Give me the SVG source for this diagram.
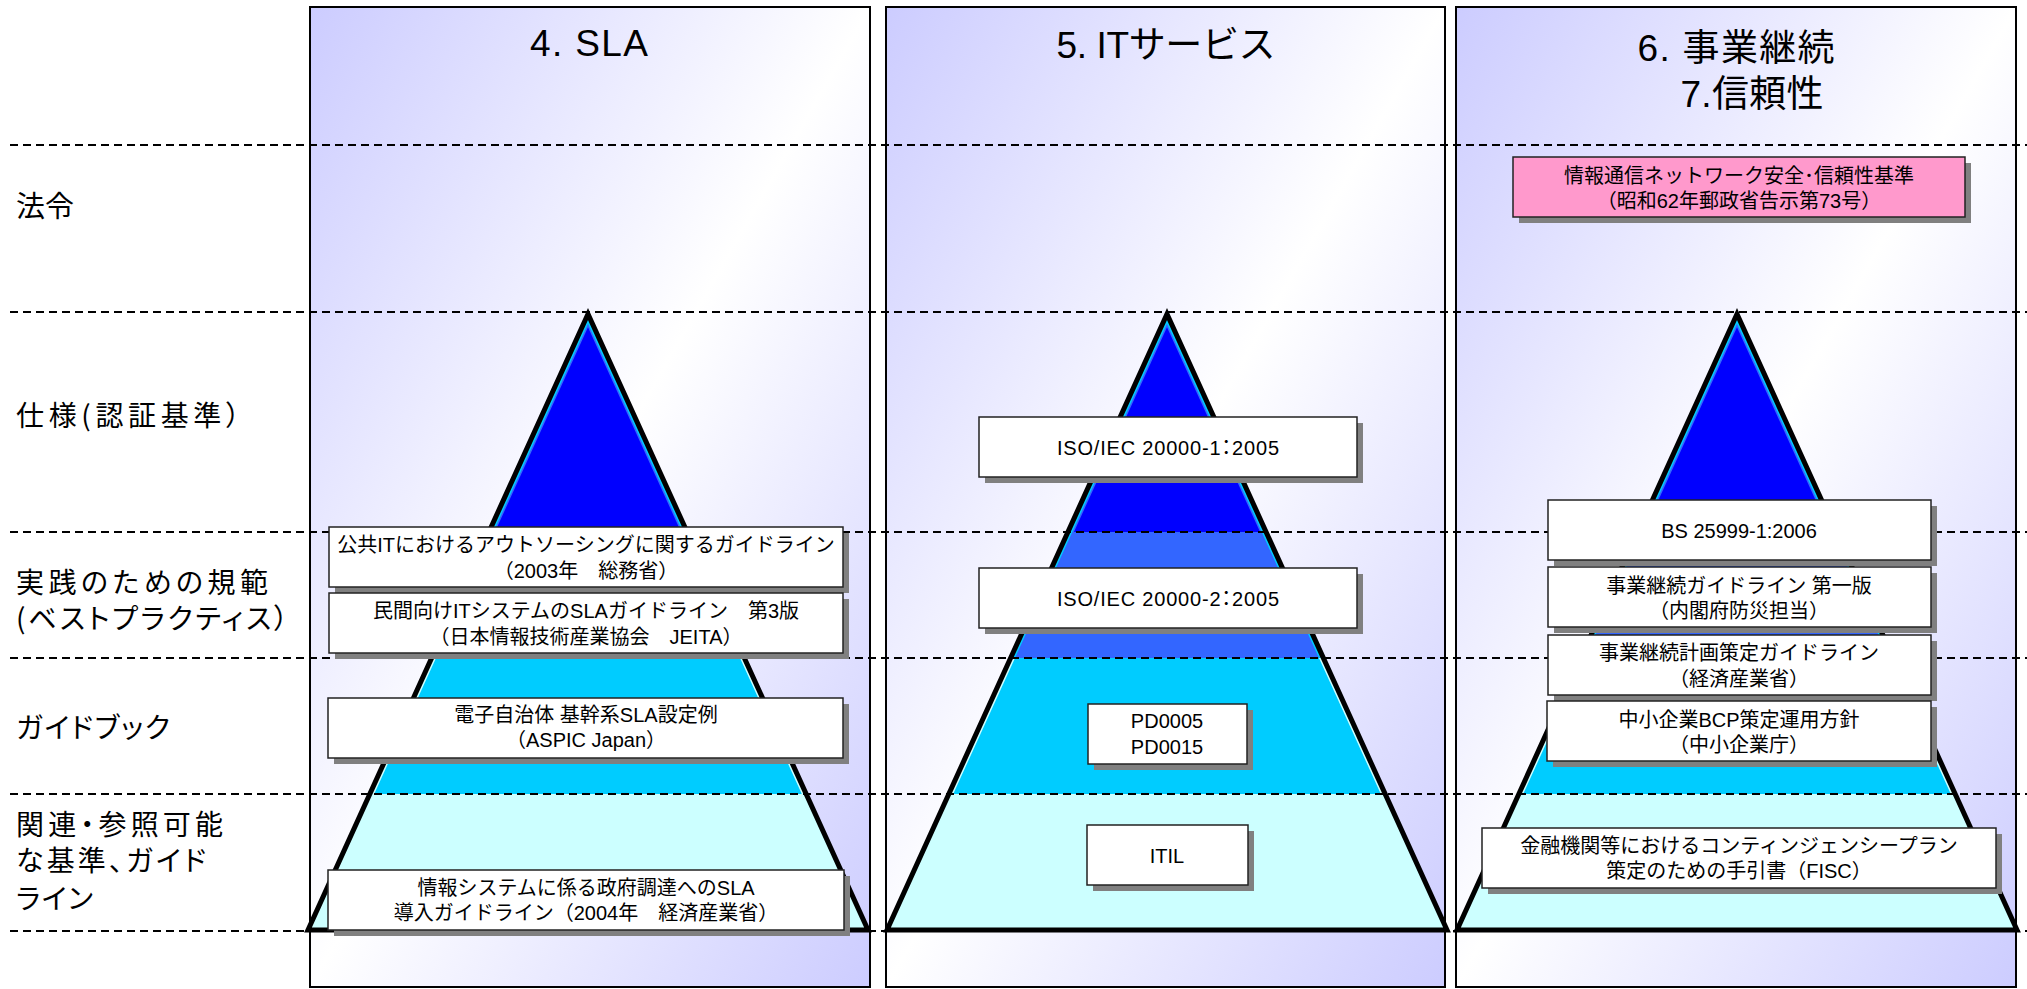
<svg xmlns="http://www.w3.org/2000/svg" width="2027" height="989" viewBox="0 0 2027 989">
<defs>
<style>
.col{fill:url(#colbg);stroke:#000;stroke-width:2}
.shadow{fill:#808080}
.box{fill:#fff;stroke:#222;stroke-width:1.5}
.pink{fill:#FF99CC;stroke:#222;stroke-width:1.5}
.bt{font-family:"Liberation Sans","Noto Sans CJK JP",sans-serif;font-size:20px;text-anchor:middle;fill:#000}
.pt{font-feature-settings:"palt"}
.lbl{font-family:"Noto Sans CJK JP",sans-serif;font-size:28px;fill:#000;font-feature-settings:"palt"}
.title{font-family:"Liberation Sans","Noto Sans CJK JP",sans-serif;font-size:37px;text-anchor:middle;fill:#000}
.dash{stroke:#000;stroke-width:2;stroke-dasharray:8 5;fill:none}
</style>
<linearGradient id="colbg" x1="0" y1="0" x2="1" y2="1">
<stop offset="0" stop-color="#CCCCFF"/>
<stop offset="0.5" stop-color="#FFFFFF"/>
<stop offset="1" stop-color="#CCCCFF"/>
</linearGradient>
<linearGradient id="st1" gradientUnits="userSpaceOnUse" x1="0" y1="314" x2="0" y2="930">
<stop offset="0" stop-color="#00CCFF"/>
<stop offset="0.558" stop-color="#00CCFF"/>
<stop offset="0.558" stop-color="#CCFFFF"/>
<stop offset="1" stop-color="#CCFFFF"/>
</linearGradient>
<linearGradient id="st2" gradientUnits="userSpaceOnUse" x1="0" y1="314" x2="0" y2="930">
<stop offset="0" stop-color="#3366FF"/>
<stop offset="0.558" stop-color="#3366FF"/>
<stop offset="0.558" stop-color="#00CCFF"/>
<stop offset="0.779" stop-color="#00CCFF"/>
<stop offset="0.779" stop-color="#CCFFFF"/>
<stop offset="1" stop-color="#CCFFFF"/>
</linearGradient>
<clipPath id="triClip"><path d="M0,314 L280,930 L-280,930 Z"/></clipPath>
<g id="pyr">
<g clip-path="url(#triClip)">
<rect x="-290" y="300" width="580" height="232" fill="#0000FF"/>
<rect x="-290" y="532" width="580" height="126" fill="#3366FF"/>
<rect x="-290" y="658" width="580" height="136" fill="#00CCFF"/>
<rect x="-290" y="794" width="580" height="146" fill="#CCFFFF"/>
<path d="M0,314 L280,930 L-280,930 Z" fill="none" stroke="url(#st2)" stroke-width="11"/>
<path d="M0,314 L280,930 L-280,930 Z" fill="none" stroke="url(#st1)" stroke-width="8"/>
</g>
<path d="M0,314 L280,930 L-280,930 Z" fill="none" stroke="#000" stroke-width="5"/>
</g>
</defs>

<g id="columns">
<rect id="col-sla" class="col" x="310" y="7" width="560" height="980"/>
<rect id="col-it" class="col" x="886" y="7" width="559" height="980"/>
<rect id="col-bc" class="col" x="1456" y="7" width="560" height="980"/>
</g>

<g id="pyramids">
<use id="pyramid-sla" href="#pyr" x="588"/>
<use id="pyramid-it" href="#pyr" x="1167"/>
<use id="pyramid-bc" href="#pyr" x="1737"/>
</g>

<g id="connectors">
<line class="dash" x1="10" y1="145" x2="2027" y2="145"/>
<line class="dash" x1="10" y1="312" x2="2027" y2="312"/>
<line class="dash" x1="10" y1="532" x2="2027" y2="532"/>
<line class="dash" x1="10" y1="658" x2="2027" y2="658"/>
<line class="dash" x1="10" y1="794" x2="2027" y2="794"/>
<line class="dash" x1="10" y1="931" x2="2027" y2="931"/>
</g>

<g id="titles">
<text id="title-sla" class="title" x="589" y="56" textLength="118" lengthAdjust="spacing">4. SLA</text>
<text id="title-it" class="title" x="1166" y="58" textLength="219" lengthAdjust="spacing">5. ITサービス</text>
<text id="title-bc" class="title" x="1736" y="61" textLength="197" lengthAdjust="spacing">6. 事業継続</text>
<text id="title-rel" class="title" x="1752" y="107" textLength="143" lengthAdjust="spacing">7.信頼性</text>
</g>

<g id="row-labels">
<text id="lbl-law" class="lbl" x="16" y="217" style="font-size:29px">法令</text>
<text id="lbl-spec" class="lbl" x="16" y="426" textLength="224" lengthAdjust="spacing">仕様(認証基準）</text>
<g id="lbl-bp">
<text class="lbl" x="16" y="593" textLength="252" lengthAdjust="spacing">実践のための規範</text>
<text class="lbl" x="16" y="629" textLength="272" lengthAdjust="spacing">(ベストプラクティス）</text>
</g>
<text id="lbl-guide" class="lbl" x="16" y="738" textLength="154" lengthAdjust="spacing">ガイドブック</text>
<g id="lbl-rel">
<text class="lbl" x="16" y="835" textLength="207" lengthAdjust="spacing">関連・参照可能</text>
<text class="lbl" x="16" y="871" textLength="190" lengthAdjust="spacing">な基準、ガイド</text>
<text class="lbl" x="16" y="909" textLength="77" lengthAdjust="spacing">ライン</text>
</g>
</g>

<g id="box-outsourcing">
<rect class="shadow" x="335" y="533" width="514" height="60"/>
<rect class="box" x="329" y="527" width="514" height="60"/>
<text class="bt" x="586" y="552">公共ITにおけるアウトソーシングに関するガイドライン</text>
<text class="bt" x="586" y="578">（2003年　総務省）</text>
</g>
<g id="box-jeita">
<rect class="shadow" x="335" y="599" width="514" height="60"/>
<rect class="box" x="329" y="593" width="514" height="60"/>
<text class="bt" x="586" y="618">民間向けITシステムのSLAガイドライン　第3版</text>
<text class="bt" x="586" y="644">（日本情報技術産業協会　JEITA）</text>
</g>
<g id="box-aspic">
<rect class="shadow" x="334" y="704" width="515" height="60"/>
<rect class="box" x="328" y="698" width="515" height="60"/>
<text class="bt" x="586" y="722">電子自治体 基幹系SLA設定例</text>
<text class="bt" x="586" y="747">（ASPIC Japan）</text>
</g>
<g id="box-procurement">
<rect class="shadow" x="334" y="876" width="516" height="60"/>
<rect class="box" x="328" y="870" width="516" height="60"/>
<text class="bt" x="586" y="895">情報システムに係る政府調達へのSLA</text>
<text class="bt" x="586" y="920">導入ガイドライン（2004年　経済産業省）</text>
</g>

<g id="box-iso1">
<rect class="shadow" x="985" y="423" width="378" height="60"/>
<rect class="box" x="979" y="417" width="378" height="60"/>
<text class="bt pt" x="1168" y="455" textLength="222" lengthAdjust="spacing">ISO/IEC 20000-1：2005</text>
</g>
<g id="box-iso2">
<rect class="shadow" x="985" y="574" width="378" height="60"/>
<rect class="box" x="979" y="568" width="378" height="60"/>
<text class="bt pt" x="1168" y="606" textLength="222" lengthAdjust="spacing">ISO/IEC 20000-2：2005</text>
</g>
<g id="box-pd">
<rect class="shadow" x="1094" y="710" width="159" height="60"/>
<rect class="box" x="1088" y="704" width="159" height="60"/>
<text class="bt" x="1167" y="728">PD0005</text>
<text class="bt" x="1167" y="754">PD0015</text>
</g>
<g id="box-itil">
<rect class="shadow" x="1093" y="831" width="161" height="60"/>
<rect class="box" x="1087" y="825" width="161" height="60"/>
<text class="bt" x="1167" y="863">ITIL</text>
</g>

<g id="box-telecom">
<rect class="shadow" x="1519" y="163" width="452" height="60"/>
<rect class="pink" x="1513" y="157" width="452" height="60"/>
<text class="bt" x="1739" y="183">情報通信ネットワーク安全･信頼性基準</text>
<text class="bt" x="1739" y="208">（昭和62年郵政省告示第73号）</text>
</g>
<g id="box-bs">
<rect class="shadow" x="1554" y="506" width="383" height="60"/>
<rect class="box" x="1548" y="500" width="383" height="60"/>
<text class="bt" x="1739" y="538">BS 25999-1:2006</text>
</g>
<g id="box-cabinet">
<rect class="shadow" x="1554" y="573" width="383" height="60"/>
<rect class="box" x="1548" y="567" width="383" height="60"/>
<text class="bt" x="1739" y="593">事業継続ガイドライン 第一版</text>
<text class="bt" x="1739" y="618">（内閣府防災担当）</text>
</g>
<g id="box-meti">
<rect class="shadow" x="1554" y="641" width="383" height="60"/>
<rect class="box" x="1548" y="635" width="383" height="60"/>
<text class="bt" x="1739" y="660">事業継続計画策定ガイドライン</text>
<text class="bt" x="1739" y="686">（経済産業省）</text>
</g>
<g id="box-sme">
<rect class="shadow" x="1553" y="707" width="384" height="60"/>
<rect class="box" x="1547" y="701" width="384" height="60"/>
<text class="bt" x="1739" y="727">中小企業BCP策定運用方針</text>
<text class="bt" x="1739" y="752">（中小企業庁）</text>
</g>
<g id="box-fisc">
<rect class="shadow" x="1488" y="834" width="514" height="60"/>
<rect class="box" x="1482" y="828" width="514" height="60"/>
<text class="bt" x="1739" y="853">金融機関等におけるコンティンジェンシープラン</text>
<text class="bt" x="1739" y="878">策定のための手引書（FISC）</text>
</g>
</svg>
